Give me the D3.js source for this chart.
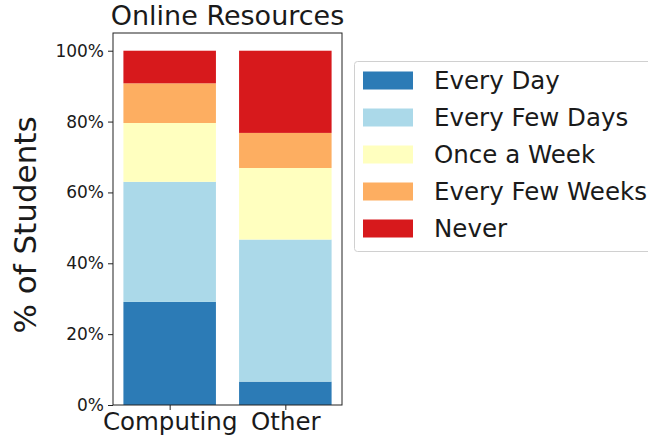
<!DOCTYPE html>
<html>
<head>
<meta charset="utf-8">
<script src="https://cdn.jsdelivr.net/npm/d3@7"></script>
<style>
  body { margin: 0; background: #fff; }
  text { font-family: "DejaVu Sans", sans-serif; fill: #1a1a1a; }
</style>
</head>
<body>
<div id="chart"></div>
<script>
// chart data
const groups = ['Computing', 'Other'];
const levels = ['Every Day', 'Every Few Days', 'Once a Week', 'Every Few Weeks', 'Never'];
const colors = ['#2c7bb6', '#abd9e9', '#ffffbf', '#fdae61', '#d7191c'];
const computingShares = [0.291, 0.339, 0.166, 0.112, 0.092];
const otherShares = [0.066, 0.401, 0.202, 0.099, 0.232];
const yTicks = [0, 0.2, 0.4, 0.6, 0.8, 1.0];

const width = 648, height = 439;
const plot = { left: 113, right: 342, top: 33, bottom: 405 };

const svg = d3.select('#chart')
  .append('svg')
  .attr('width', width)
  .attr('height', height);

const x = d3.scaleLinear()
  .domain([-0.49, 1.49])
  .range([plot.left, plot.right]);
const y = d3.scaleLinear()
  .domain([0, 1.05])
  .range([plot.bottom, plot.top]);

const shares = [computingShares, otherShares];
const rows = groups.map((g, i) => {
  const row = { group: g, index: i };
  levels.forEach((l, j) => { row[l] = shares[i][j]; });
  return row;
});
const stack = d3.stack().keys(levels)(rows);

const barWidth = 0.8;
svg.append('g')
  .selectAll('g')
  .data(stack)
  .enter()
  .append('g')
  .attr('fill', (d, i) => colors[i])
  .selectAll('rect')
  .data(d => d)
  .enter()
  .append('rect')
  .attr('x', d => x(d.data.index - barWidth / 2))
  .attr('width', d => x(barWidth) - x(0))
  .attr('y', d => y(d[1]))
  .attr('height', d => y(d[0]) - y(d[1]));

// axes
const leftAxis = d3.axisLeft(y)
  .tickValues(yTicks)
  .tickFormat(d3.format('.0%'))
  .tickSize(5)
  .tickPadding(4);
const yaxis = svg.append('g')
  .attr('transform', `translate(${plot.left},0)`)
  .call(leftAxis);
yaxis.select('.domain').remove();
yaxis.selectAll('text').style('font-size', '17px').attr('fill', '#1a1a1a');
yaxis.selectAll('line').attr('stroke', '#222');

const bottomAxis = d3.axisBottom(x)
  .tickValues([0, 1])
  .tickFormat((d, i) => groups[i])
  .tickSize(5)
  .tickPadding(3);
const xaxis = svg.append('g')
  .attr('transform', `translate(0,${plot.bottom})`)
  .call(bottomAxis);
xaxis.select('.domain').remove();
xaxis.selectAll('text').style('font-size', '24.5px').attr('fill', '#1a1a1a');
xaxis.selectAll('line').attr('stroke', '#222');

// frame
svg.append('rect')
  .attr('x', plot.left)
  .attr('y', plot.top)
  .attr('width', plot.right - plot.left)
  .attr('height', plot.bottom - plot.top)
  .attr('fill', 'none')
  .attr('stroke', '#222')
  .attr('stroke-width', 1);

// title
svg.append('text')
  .attr('x', (plot.left + plot.right) / 2)
  .attr('y', 25)
  .attr('text-anchor', 'middle')
  .style('font-size', '27px')
  .text('Online Resources');

// y label
svg.append('text')
  .attr('transform', `translate(36,225) rotate(-90)`)
  .attr('text-anchor', 'middle')
  .style('font-size', '31px')
  .text('% of Students');

// legend
const legend = svg.append('g');
legend.append('rect')
  .attr('x', 354.5)
  .attr('y', 61.5)
  .attr('width', 310)
  .attr('height', 190)
  .attr('rx', 3)
  .attr('fill', '#fff')
  .attr('stroke', '#d0d0d0');

const items = legend.selectAll('.item')
  .data(levels)
  .enter()
  .append('g')
  .attr('class', 'item')
  .attr('transform', (d, i) => `translate(0,${80.5 + i * 37})`);
items.append('rect')
  .attr('x', 363)
  .attr('y', -9)
  .attr('width', 50)
  .attr('height', 18)
  .attr('fill', (d, i) => colors[i]);
items.append('text')
  .attr('x', 434)
  .attr('y', 8)
  .style('font-size', '24.5px')
  .text(d => d);
</script>
</body>
</html>
